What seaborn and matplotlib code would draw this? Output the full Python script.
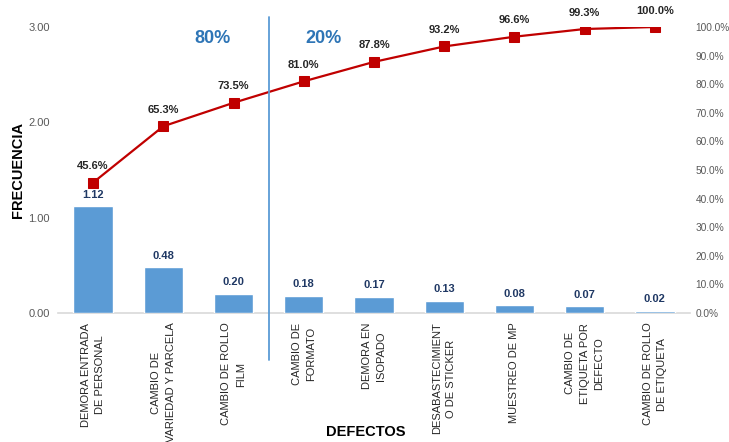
import numpy as np
import pandas as pd
import matplotlib
matplotlib.use("Agg")
import matplotlib.pyplot as plt
import seaborn as sns
from matplotlib.ticker import FuncFormatter, FixedLocator

categories = ["DEMORA ENTRADA\nDE PERSONAL", "CAMBIO DE\nVARIEDAD Y PARCELA",
              "CAMBIO DE ROLLO\nFILM", "CAMBIO DE\nFORMATO", "DEMORA EN\nISOPADO",
              "DESABASTECIMIENT\nO DE STICKER", "MUESTREO DE MP",
              "CAMBIO DE\nETIQUETA POR\nDEFECTO", "CAMBIO DE ROLLO\nDE ETIQUETA"]
frecuencia = [1.12, 0.48, 0.20, 0.18, 0.17, 0.13, 0.08, 0.07, 0.02]
acumulado = [45.6, 65.3, 73.5, 81.0, 87.8, 93.2, 96.6, 99.3, 100.0]
left_ticks = [0.0, 1.0, 2.0, 3.0]
right_ticks = [0, 10, 20, 30, 40, 50, 60, 70, 80, 90, 100]

sns.set_style("white")
plt.rcParams['font.family'] = ['Liberation Sans', 'DejaVu Sans']

W, H = 729, 442
fig = plt.figure(figsize=(W/100, H/100), dpi=100)
ax = fig.add_axes([58/W, 1-313/H, (690-58)/W, (313-27)/H])

df = pd.DataFrame({"cat": categories, "val": frecuencia})
sns.barplot(data=df, x="cat", y="val", color="#5B9BD5", saturation=1, width=0.56, ax=ax, zorder=3)
ax.set_ylim(0, 3.0)
ax.set_xlim(-0.5, len(categories) - 0.5)
ax.yaxis.set_major_locator(FixedLocator(left_ticks))
ax.yaxis.set_major_formatter(FuncFormatter(lambda v, p: f"{v:.2f}"))
ax.tick_params(axis='y', labelsize=8, labelcolor="#595959", length=0, pad=6)
ax.tick_params(axis='x', labelsize=8, labelcolor="#262626", length=0, pad=7)
for lab in ax.get_xticklabels():
    lab.set_rotation(90)
    lab.set_ha('center')
    lab.set_va('top')
    lab.set_multialignment('center')
    lab.set_linespacing(1.55)
for s in ["left", "right", "top"]:
    ax.spines[s].set_visible(False)
ax.spines["bottom"].set_color("#D9D9D9")
ax.spines["bottom"].set_linewidth(1.2)
ax.spines["bottom"].set_zorder(1)
ax.set_ylabel("")
ax.set_xlabel("")
fig.text(18/W, 1-170/H, "FRECUENCIA", rotation=90, ha="center", va="center",
         fontsize=10.5, fontweight="bold", color="#000000")
fig.text(366/W, 1-432/H, "DEFECTOS", ha="center", va="center",
         fontsize=10.5, fontweight="bold", color="#000000")

for i, v in enumerate(frecuencia):
    ax.text(i, v + 0.07, f"{v:.2f}", ha="center", va="bottom", fontsize=8,
            fontweight="bold", color="#1F3864")

ax2 = ax.twinx()
ax2.set_ylim(0, 100)
sns.lineplot(x=np.arange(len(acumulado)), y=acumulado, color="#C00000", lw=1.6,
             marker="s", markersize=7, markeredgecolor="#C00000", ax=ax2)
ax2.yaxis.set_major_locator(FixedLocator(right_ticks))
ax2.yaxis.set_major_formatter(FuncFormatter(lambda v, p: f"{v:.1f}%"))
ax2.tick_params(axis='y', labelsize=7.3, labelcolor="#595959", length=0, pad=4)
for s in ["left", "right", "top", "bottom"]:
    ax2.spines[s].set_visible(False)
ax2.set_ylabel("")
for i, p in enumerate(acumulado):
    ax2.text(i, p + 4.0, f"{p:.1f}%", ha="center", va="bottom", fontsize=8,
             fontweight="bold", color="#262626")

# 80/20 divider and labels
ax2.plot([2.5, 2.5], [103.5, -16.5], color="#5B9BD5", lw=1.3, clip_on=False)
ax2.text(1.7, 96, "80%", ha="center", va="center", fontsize=13, fontweight="bold", color="#2E75B6")
ax2.text(3.28, 96, "20%", ha="center", va="center", fontsize=13, fontweight="bold", color="#2E75B6")

fig.savefig("out.png", dpi=100)
